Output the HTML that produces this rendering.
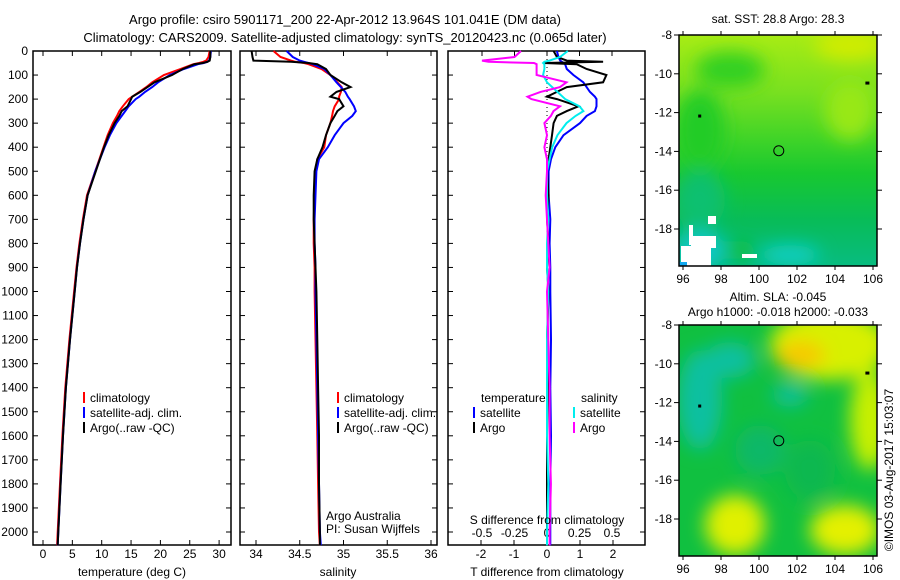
<!DOCTYPE html>
<html><head><meta charset="utf-8"><style>
body{margin:0;background:#fff}
svg{display:block;font-family:"Liberation Sans",sans-serif;font-size:12px}
</style></head><body>
<svg id="chart" width="900" height="580" viewBox="0 0 900 580">
<defs>
<linearGradient id="sstg" x1="0" y1="0" x2="0" y2="1">
<stop offset="0" stop-color="#a8ec14"/><stop offset="0.25" stop-color="#78e020"/><stop offset="0.45" stop-color="#40d428"/><stop offset="0.6" stop-color="#18c830"/><stop offset="0.8" stop-color="#08bc58"/><stop offset="1" stop-color="#08bc80"/>
</linearGradient>
<filter id="bl" x="-50%" y="-50%" width="200%" height="200%"><feGaussianBlur stdDeviation="9"/></filter>
<clipPath id="c1"><rect x="679" y="35" width="198" height="231"/></clipPath>
<clipPath id="c2"><rect x="679" y="325" width="198" height="231"/></clipPath>
</defs>
<text x="345" y="24" text-anchor="middle" font-size="13">Argo profile: csiro 5901171_200 22-Apr-2012 13.964S 101.041E (DM data)</text>
<text x="345" y="42" text-anchor="middle" font-size="13">Climatology: CARS2009. Satellite-adjusted climatology: synTS_20120423.nc (0.065d later)</text>
<g id="plots"></g>
<g id="maps">
<g clip-path="url(#c1)">
<rect x="679" y="35" width="198" height="231" fill="url(#sstg)"/>
<g filter="url(#bl)">
<ellipse cx="850" cy="45" rx="35" ry="15" fill="#d0ec00"/>
<ellipse cx="850" cy="110" rx="25" ry="30" fill="#98e818"/>
<ellipse cx="730" cy="70" rx="35" ry="18" fill="#30d020"/>
<ellipse cx="700" cy="130" rx="25" ry="40" fill="#20cc28"/>
<ellipse cx="700" cy="200" rx="25" ry="30" fill="#10c070"/>
<ellipse cx="700" cy="250" rx="25" ry="20" fill="#10c8c8"/>
<ellipse cx="790" cy="255" rx="30" ry="10" fill="#10d0c8"/>
<ellipse cx="740" cy="250" rx="15" ry="10" fill="#08c040"/>
</g>
<rect x="708" y="216" width="8" height="8" fill="#fff"/>
<rect x="681" y="246" width="30" height="20" fill="#fff"/>
<rect x="691" y="236" width="25" height="12" fill="#fff"/>
<rect x="689" y="225" width="4" height="20" fill="#fff"/>
<rect x="742" y="254" width="15" height="4" fill="#fff"/>
<rect x="679" y="262" width="8" height="4" fill="#10a8f0"/>
</g>
<g clip-path="url(#c2)">
<rect x="679" y="325" width="198" height="231" fill="#10c040"/>
<g filter="url(#bl)">
<ellipse cx="830" cy="345" rx="60" ry="35" fill="#d8f000"/>
<ellipse cx="800" cy="355" rx="25" ry="14" fill="#f8c800"/>
<ellipse cx="870" cy="420" rx="20" ry="50" fill="#c8f000"/>
<ellipse cx="735" cy="525" rx="30" ry="30" fill="#e0f000"/>
<ellipse cx="845" cy="530" rx="35" ry="25" fill="#e4f000"/>
<ellipse cx="700" cy="400" rx="22" ry="50" fill="#10c0a0"/>
<ellipse cx="730" cy="360" rx="25" ry="18" fill="#10c0a0"/>
<ellipse cx="790" cy="395" rx="18" ry="12" fill="#10c098"/>
<ellipse cx="760" cy="450" rx="25" ry="25" fill="#10b868"/>
<ellipse cx="810" cy="470" rx="25" ry="30" fill="#10b850"/>
</g>
</g>
</g>
<text transform="translate(893,470) rotate(-90)" text-anchor="middle" font-size="12">©IMOS 03-Aug-2017 15:03:07</text>
</svg>
<script>
const NS="http://www.w3.org/2000/svg";
const depths=[0,25,40,45,50,55,75,100,130,150,170,190,200,230,250,270,300,350,400,450,500,600,700,800,900,1000,1200,1400,1600,1800,2000,2055];
const tempClim=[28.4,28.2,27.8,27.3,26.6,25.6,23.4,20.6,18.6,17.6,16.4,15.2,14.6,13.6,13.0,12.6,11.9,11.0,10.3,9.6,8.9,7.5,6.8,6.2,5.7,5.3,4.5,3.8,3.3,2.9,2.5,2.4];
const tempSat=[28.6,28.5,28.3,28.0,27.4,26.4,24.0,21.6,19.6,18.6,17.4,16.4,15.8,14.6,14.0,13.4,12.5,11.4,10.5,9.7,8.9,7.6,6.9,6.3,5.8,5.4,4.6,3.9,3.4,3.0,2.6,2.5];
const tempArgo=[28.5,28.5,28.4,28.0,27.2,25.8,23.8,22.0,19.0,17.8,16.6,15.2,15.0,14.4,13.4,13.0,12.2,11.2,10.4,9.7,9.0,7.6,6.9,6.3,5.8,5.4,4.6,3.9,3.4,3.0,2.6,2.5];
const salClim=[34.2,34.28,34.4,34.45,34.55,34.6,34.75,34.85,34.93,34.98,34.97,34.95,34.95,34.9,34.88,34.87,34.85,34.8,34.78,34.7,34.68,34.67,34.66,34.66,34.67,34.67,34.68,34.69,34.7,34.71,34.72,34.73];
const salSat=[34.35,34.42,34.5,34.55,34.6,34.65,34.78,34.85,34.92,34.97,35.02,35.05,35.07,35.12,35.14,35.1,35.0,34.9,34.82,34.72,34.69,34.68,34.67,34.67,34.68,34.68,34.69,34.7,34.71,34.72,34.73,34.74];
const salArgo=[33.95,33.96,33.97,34.4,34.6,34.7,34.8,34.85,34.98,35.08,34.92,34.85,34.95,35.0,34.93,34.9,34.85,34.8,34.76,34.7,34.67,34.66,34.66,34.67,34.68,34.69,34.7,34.71,34.72,34.72,34.73,34.73];
const dTsat=[0.3,0.35,0.4,0.45,0.5,0.55,0.6,0.8,1.1,1.2,1.3,1.45,1.5,1.5,1.45,1.2,1.0,0.5,0.25,0.12,0.05,0.05,0.1,0.08,0.1,0.1,0.12,0.1,0.12,0.1,0.1,0.1];
const dTargo=[0.2,0.3,0.6,1.7,-0.1,0.9,1.2,1.8,1.7,0.6,0.3,0.0,0.3,0.95,0.6,0.3,0.2,0.15,0.1,0.05,0.0,0.05,0.0,0.05,0.0,0.05,0.0,0.02,0.0,0.0,0.0,0.0];
const dSsat=[0.16,0.1,0.02,-0.02,-0.03,-0.02,-0.02,-0.03,0.0,0.04,0.08,0.12,0.14,0.25,0.28,0.22,0.15,0.08,0.04,0.02,0.0,0.0,0.01,0.0,0.0,0.01,0.0,0.0,0.0,0.01,0.0,0.0];
const dSargo=[-0.2,-0.25,-0.5,-0.45,-0.1,-0.08,-0.08,-0.08,0.15,0.1,-0.05,-0.15,-0.12,0.1,0.05,0.03,-0.02,0.0,-0.02,0.0,0.0,-0.01,0.0,0.01,0.02,0.0,0.01,0.02,0.02,0.03,0.02,0.02];
const depthTicks=[0,100,200,300,400,500,600,700,800,900,1000,1100,1200,1300,1400,1500,1600,1700,1800,1900,2000];
const tempTicks=[0,5,10,15,20,25,30];
const salTicks=[34,34.5,35,35.5,36];
const tdTicks=[-2,-1,0,1,2];
const sdTicks=[-0.5,-0.25,0,0.25,0.5];
const lonTicks=[96,98,100,102,104,106];
const latTicks=[-8,-10,-12,-14,-16,-18];

const Y=d=>51+d*0.2405;
const xT=v=>43+v*5.87, xS=v=>256+(v-34)*87.5, xTD=v=>547+v*33, xSD=v=>547+v*130;
const TOP=51,BOT=545;
const g=document.getElementById('plots');
function el(t,a,p){const e=document.createElementNS(NS,t);for(const k in a)e.setAttribute(k,a[k]);(p||g).appendChild(e);return e;}
function txt(x,y,s,anchor,p){const e=el('text',{x:x,y:y,'text-anchor':anchor||'middle'},p);e.textContent=s;return e;}
function frame(x0,x1,name){
  const r=el('rect',{x:x0,y:TOP,width:x1-x0,height:BOT-TOP,fill:'none',stroke:'#000','stroke-width':1.5});
  
  
  depthTicks.forEach(d=>{el('line',{x1:x0,x2:x0+5,y1:Y(d),y2:Y(d),stroke:'#000'});el('line',{x1:x1-5,x2:x1,y1:Y(d),y2:Y(d),stroke:'#000'});});
}
function line(xs,ds,fx,color,name){
  const p=el('polyline',{points:ds.map((d,i)=>fx(xs[i]).toFixed(1)+','+Y(d).toFixed(1)).join(' '),fill:'none',stroke:color,'stroke-width':2});
  
  
}
depthTicks.forEach(d=>{const t=txt(28,Y(d)+4,String(d),'end');});
frame(33,231,'temperature-panel');
tempTicks.forEach(v=>{el('line',{x1:xT(v),x2:xT(v),y1:BOT,y2:BOT-5,stroke:'#000'});el('line',{x1:xT(v),x2:xT(v),y1:TOP,y2:TOP+5,stroke:'#000'});const t=txt(xT(v),558,String(v));});
line(tempClim,depths,xT,'#f00','temp-climatology-line');
line(tempSat,depths,xT,'#00f','temp-satellite-line');
line(tempArgo,depths,xT,'#000','temp-argo-line');
const t1=txt(132,576,'temperature (deg C)');
frame(240,437,'salinity-panel');
salTicks.forEach(v=>{el('line',{x1:xS(v),x2:xS(v),y1:BOT,y2:BOT-5,stroke:'#000'});el('line',{x1:xS(v),x2:xS(v),y1:TOP,y2:TOP+5,stroke:'#000'});const t=txt(xS(v),558,String(v));});
line(salClim,depths,xS,'#f00','sal-climatology-line');
line(salSat,depths,xS,'#00f','sal-satellite-line');
line(salArgo,depths,xS,'#000','sal-argo-line');
const t2=txt(338,576,'salinity');
txt(326,520,'Argo Australia','start');txt(326,533,'PI: Susan Wijffels','start');
frame(448,645,'difference-panel');
tdTicks.forEach(v=>{el('line',{x1:xTD(v),x2:xTD(v),y1:BOT,y2:BOT-5,stroke:'#000'});const t=txt(xTD(v),558,String(v));});
sdTicks.forEach(v=>{el('line',{x1:xSD(v),x2:xSD(v),y1:TOP,y2:TOP+5,stroke:'#000'});const t=txt(xSD(v),537,String(v));});
el('line',{x1:547,x2:547,y1:TOP,y2:260,stroke:'#000','stroke-dasharray':'1,3'});
line(dTsat,depths,xTD,'#00f','tdiff-satellite-line');
line(dTargo,depths,xTD,'#000','tdiff-argo-line');
line(dSsat,depths,xSD,'#0ee','sdiff-satellite-line');
line(dSargo,depths,xSD,'#f0f','sdiff-argo-line');
txt(547,524,'S difference from climatology');
const t3=txt(547,576,'T difference from climatology');
function leg(x,y,c,s){el('rect',{x:x,y:y-10,width:2,height:11,fill:c});const t=txt(x+7,y,s,'start');}
[[83,'#f00','climatology',402],[83,'#00f','satellite-adj. clim.',417],[83,'#000','Argo(..raw -QC)',432]].forEach(a=>leg(a[0],a[3],a[1],a[2]));
[[337,'#f00','climatology',402],[337,'#00f','satellite-adj. clim.',417],[337,'#000','Argo(..raw -QC)',432]].forEach(a=>leg(a[0],a[3],a[1],a[2]));
txt(481,402,'temperature','start');txt(581,402,'salinity','start');
leg(473,417,'#00f','satellite');leg(473,432,'#000','Argo');
leg(573,417,'#0ee','satellite');leg(573,432,'#f0f','Argo');
const mg=document.getElementById('maps');
function map(top,bottom,name,titles,off){
  const lat=v=>top+(-8-v)*19.4, lon=v=>683+(v-96)*19;
  const r=el('rect',{x:679,y:top,width:198,height:bottom-top,fill:'none',stroke:'#000','stroke-width':1.5},mg);
  
  
  latTicks.forEach(v=>{el('line',{x1:674,x2:679,y1:lat(v),y2:lat(v),stroke:'#000'},mg);el('line',{x1:877,x2:882,y1:lat(v),y2:lat(v),stroke:'#000'},mg);txt(672,lat(v)+4,String(v),'end',mg);});
  lonTicks.forEach(v=>{el('line',{x1:lon(v),x2:lon(v),y1:bottom,y2:bottom+4,stroke:'#000'},mg);el('line',{x1:lon(v),x2:lon(v),y1:top-4,y2:top,stroke:'#000'},mg);txt(lon(v),bottom+17,String(v),'middle',mg);});
  const c=el('circle',{cx:lon(101.041),cy:lat(-13.964),r:5,fill:'none',stroke:'#000'},mg);
  
  
  el('rect',{x:lon(96.8),y:lat(-12.1),width:3,height:3,fill:'#000'},mg);
  el('rect',{x:lon(105.6),y:lat(-10.4),width:4,height:3,fill:'#000'},mg);
  titles.forEach((s,i)=>txt(778,top-off-(titles.length-1-i)*15,s,'middle',mg));
}
map(35,266,'sst-map',['sat. SST: 28.8 Argo: 28.3'],12);
map(325,556,'sla-map',['Altim. SLA: -0.045','Argo h1000: -0.018 h2000: -0.033'],9);
</script>
</body></html>
